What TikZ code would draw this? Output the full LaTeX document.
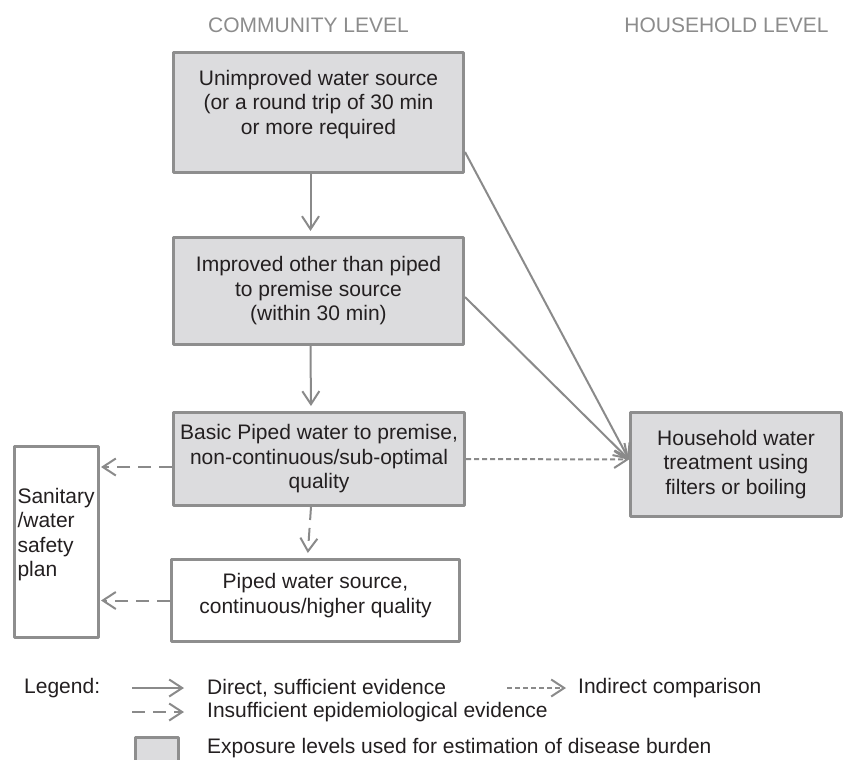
\documentclass[tikz,border=0pt]{standalone}
\usepackage{fontspec}
\setmainfont{Liberation Sans}
\usetikzlibrary{arrows.meta}
\definecolor{ink}{HTML}{231F20}
\definecolor{hdgray}{HTML}{8C8C8C}
\definecolor{edgegray}{HTML}{8E8E8E}
\definecolor{fillgray}{HTML}{DCDCDE}
\definecolor{arrgray}{HTML}{8A8A8A}
\tikzset{
  expbox/.style={draw=edgegray, fill=fillgray, line width=3pt, inner sep=0pt, align=center, text=ink},
  plainbox/.style={expbox, fill=white},
  lbl/.style={inner sep=0pt, text=ink, anchor=west},
  direct/.style={draw=arrgray, line width=2pt, -{Straight Barb[length=13pt,width=17pt]}},
  insuff/.style={direct, dash pattern=on 13pt off 8pt},
  indirect/.style={direct, dash pattern=on 5pt off 3pt},
}
\begin{document}
\begin{tikzpicture}[x=1pt, y=-1pt, font=\fontsize{21}{24.5}\selectfont, line join=round]
\useasboundingbox (0,0) rectangle (843,760);
% level headings
\node[text=hdgray, inner sep=0pt] (comlvl) at (308.5,25) {COMMUNITY LEVEL};
\node[text=hdgray, inner sep=0pt] (hhlvl) at (726.5,25) {HOUSEHOLD LEVEL};
% boxes
\node[expbox, minimum width=290, minimum height=120] (unimp) at (318.5,112.5)
  {Unimproved water source\\(or a round trip of 30 min\\or more required\\[-4pt]\mbox{}};
\node[expbox, minimum width=290, minimum height=107] (impr) at (318.5,291)
  {Improved other than piped\\to premise source\\(within 30 min)};
\node[expbox, minimum width=291, minimum height=93] (basic) at (319,459)
  {Basic Piped water to premise,\\non-continuous/sub-optimal\\quality};
\node[expbox, minimum width=211, minimum height=104] (hh) at (736,464.5)
  {Household water\\treatment using\\filters or boiling};
\node[plainbox, minimum width=288, minimum height=82] (piped) at (315.5,600.5)
  {Piped water source,\\continuous/higher quality\\[-10pt]\mbox{}};
\node[plainbox, minimum width=84, minimum height=191, text width=78, align=left] (sanit) at (56.5,542)
  {Sanitary\\/water\\safety\\plan\\[-5pt]\mbox{}};
% connectors
\draw[direct, shorten >=5pt] ([xshift=-8pt]unimp.south) -- ([xshift=-8pt]impr.north);
\draw[direct, shorten >=5pt] ([xshift=-8pt]impr.south) -- ([xshift=-8pt]basic.north);
\draw[insuff, shorten >=5pt] ([xshift=-8pt]basic.south) -- ([xshift=-8pt]piped.north);
\coordinate (hhin) at ([yshift=5pt]hh.west);
\draw[direct] ([yshift=22pt]unimp.south east) -- (hhin);
\draw[direct] ([yshift=-6pt]impr.east) -- (hhin);
\draw[indirect] (basic.east) -- (hhin);
\coordinate (bw) at ([yshift=-8pt]basic.west);
\draw[insuff, shorten >=1pt] (bw) -- (bw -| sanit.east);
\draw[insuff, shorten >=1pt] (piped.west) -- (piped.west -| sanit.east);
% legend
\node[lbl] (legend) at (24,688) {Legend:};
\coordinate (ld1) at (132,688); \coordinate (ld2) at (184,688);
\draw[direct] (ld1) -- (ld2);
\node[lbl] (ldirect) at (207,688) {Direct, sufficient evidence};
\coordinate (li1) at (507,688); \coordinate (li2) at (566,688);
\draw[indirect] (li1) -- (li2);
\node[lbl] (lindirect) at (578,688) {Indirect comparison};
\coordinate (ls1) at (132,712); \coordinate (ls2) at (184,712);
\draw[insuff] (ls1) -- (ls2);
\node[lbl] (linsuff) at (207,712) {Insufficient epidemiological evidence};
\node[expbox, minimum width=43, minimum height=40, anchor=north west] (lbox) at (133.5,735.5) {};
\node[lbl] (lexpo) at (207,748) {Exposure levels used for estimation of disease burden};
\end{tikzpicture}
\end{document}
